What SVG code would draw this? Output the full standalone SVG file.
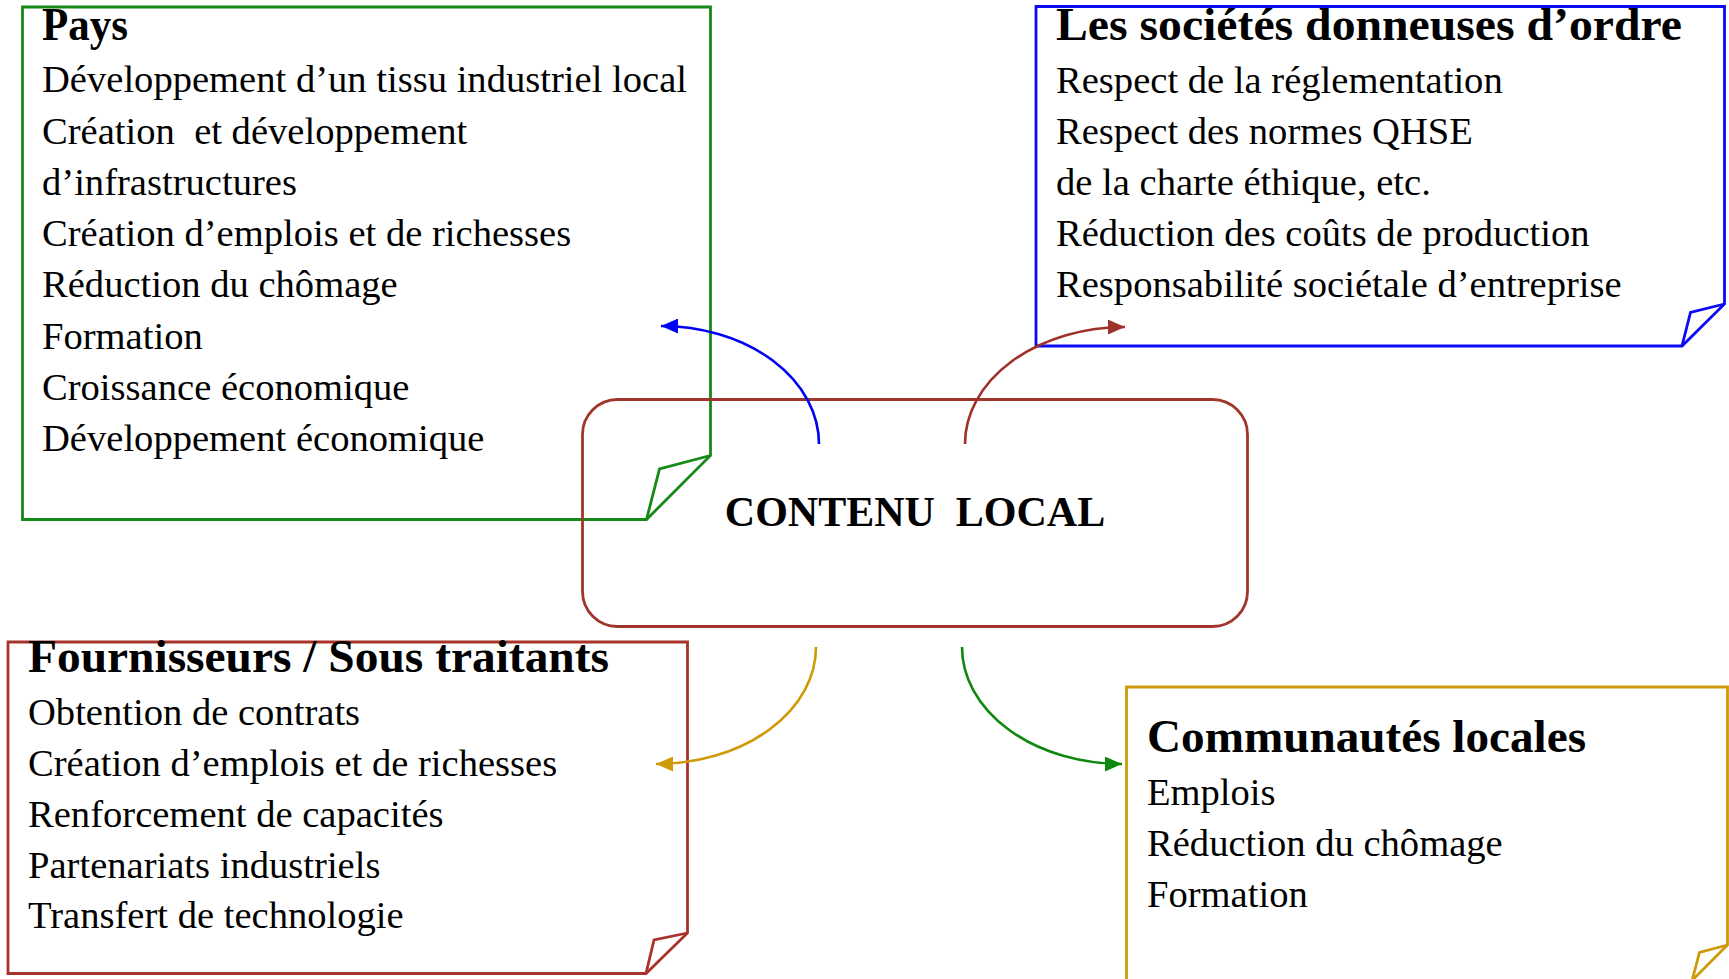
<svg xmlns="http://www.w3.org/2000/svg" width="1729" height="979" viewBox="0 0 1729 979">
  <style>
    text { font-family: "Liberation Serif", "Times New Roman", serif; fill: #000; white-space: pre; }
    .body { font-size: 38.6px; }
    .title { font-size: 46px; font-weight: bold; }
    .center { font-size: 42px; font-weight: bold; text-anchor: middle; }
    .box { fill: none; stroke-width: 2.8; stroke-linejoin: miter; }
    .conn { fill: none; stroke-width: 2.6; }
  </style>
  <defs>
    <marker id="ahBlue" viewBox="0 0 16 14" refX="16" refY="7" markerWidth="17" markerHeight="15" markerUnits="userSpaceOnUse" orient="auto">
      <path d="M0,0 L16,7 L0,14 Z" fill="#0000F5"/>
    </marker>
    <marker id="ahBrown" viewBox="0 0 16 14" refX="16" refY="7" markerWidth="17" markerHeight="15" markerUnits="userSpaceOnUse" orient="auto">
      <path d="M0,0 L16,7 L0,14 Z" fill="#A0302A"/>
    </marker>
    <marker id="ahGold" viewBox="0 0 16 14" refX="16" refY="7" markerWidth="17" markerHeight="15" markerUnits="userSpaceOnUse" orient="auto">
      <path d="M0,0 L16,7 L0,14 Z" fill="#CF9A08"/>
    </marker>
    <marker id="ahGreen" viewBox="0 0 16 14" refX="16" refY="7" markerWidth="17" markerHeight="15" markerUnits="userSpaceOnUse" orient="auto">
      <path d="M0,0 L16,7 L0,14 Z" fill="#0F880F"/>
    </marker>
  </defs>

  <g id="pays">
    <path class="box" stroke="#168A16" d="M22.5 7 H710.5 V455.5 L646.5 519.5 H22.5 Z"/>
    <path class="box" stroke="#168A16" d="M710.5 455.5 L659.5 469 L646.5 519.5"/>
    <text class="title" x="42" y="40" textLength="86" lengthAdjust="spacingAndGlyphs">Pays</text>
    <text class="body" x="42" y="92">Développement d’un tissu industriel local</text>
    <text class="body" x="42" y="143.5">Création  et développement</text>
    <text class="body" x="42" y="194.5">d’infrastructures</text>
    <text class="body" x="42" y="246">Création d’emplois et de richesses</text>
    <text class="body" x="42" y="297">Réduction du chômage</text>
    <text class="body" x="42" y="348.5">Formation</text>
    <text class="body" x="42" y="400">Croissance économique</text>
    <text class="body" x="42" y="451">Développement économique</text>
  </g>

  <g id="societes">
    <path class="box" stroke="#0A0AF5" d="M1036 6.5 H1724.5 V304 L1682 346 H1036 Z"/>
    <path class="box" stroke="#0A0AF5" d="M1724.5 304 L1690.5 312.5 L1682 346"/>
    <text class="title" x="1056" y="40" textLength="626" lengthAdjust="spacingAndGlyphs">Les sociétés donneuses d’ordre</text>
    <text class="body" x="1056" y="93">Respect de la réglementation</text>
    <text class="body" x="1056" y="144">Respect des normes QHSE</text>
    <text class="body" x="1056" y="195">de la charte éthique, etc.</text>
    <text class="body" x="1056" y="246">Réduction des coûts de production</text>
    <text class="body" x="1056" y="297">Responsabilité sociétale d’entreprise</text>
  </g>

  <g id="contenu-local">
    <rect class="box" stroke="#A0352A" x="582.5" y="399.5" width="665" height="227" rx="35" ry="35"/>
    <text class="center" x="915" y="526">CONTENU  LOCAL</text>
  </g>

  <g id="fournisseurs">
    <path class="box" stroke="#A8332A" d="M8 642 H687.5 V933 L646 973.5 H8 Z"/>
    <path class="box" stroke="#A8332A" d="M687.5 933 L654 940 L646 973.5"/>
    <text class="title" x="28" y="672" textLength="581" lengthAdjust="spacingAndGlyphs">Fournisseurs / Sous traitants</text>
    <text class="body" x="28" y="725">Obtention de contrats</text>
    <text class="body" x="28" y="776">Création d’emplois et de richesses</text>
    <text class="body" x="28" y="827">Renforcement de capacités</text>
    <text class="body" x="28" y="877.5">Partenariats industriels</text>
    <text class="body" x="28" y="928">Transfert de technologie</text>
  </g>

  <g id="communautes">
    <path class="box" stroke="#CF9A08" d="M1126.5 687 H1727.5 V945 L1685.5 987 H1126.5 Z"/>
    <path class="box" stroke="#CF9A08" d="M1727.5 945 L1699.5 952.5 L1692.5 979 L1690 990"/>
    <text class="title" x="1147" y="752" textLength="439" lengthAdjust="spacingAndGlyphs">Communautés locales</text>
    <text class="body" x="1147" y="805">Emplois</text>
    <text class="body" x="1147" y="856">Réduction du chômage</text>
    <text class="body" x="1147" y="907">Formation</text>
  </g>

  <g id="connectors">
    <path class="conn" stroke="#0000F5" d="M819 444 A158 118 0 0 0 661 326" marker-end="url(#ahBlue)"/>
    <path class="conn" stroke="#A0302A" d="M965 444 A160 117 0 0 1 1125 327" marker-end="url(#ahBrown)"/>
    <path class="conn" stroke="#CF9A08" d="M816 647 A160 117 0 0 1 656 764" marker-end="url(#ahGold)"/>
    <path class="conn" stroke="#0F880F" d="M962 647 A160 117 0 0 0 1122 764" marker-end="url(#ahGreen)"/>
  </g>
</svg>
